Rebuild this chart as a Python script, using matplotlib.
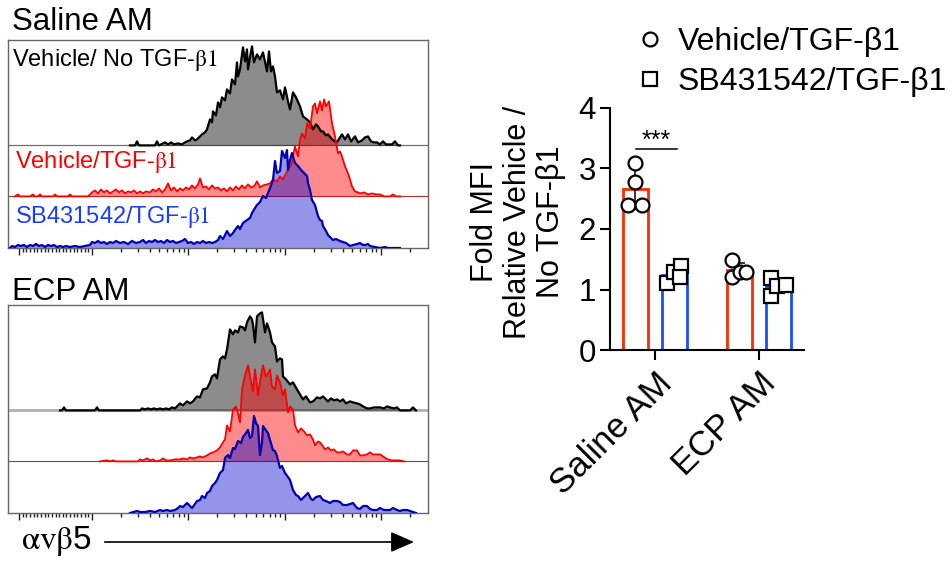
import numpy as np
import matplotlib.pyplot as plt
import matplotlib.transforms as mtransforms
from matplotlib.lines import Line2D

plt.rcParams['font.family'] = ['Liberation Sans', 'DejaVu Sans']
plt.rcParams['mathtext.fontset'] = 'stix'

# ---- flow histograms: (channel, count) ----
saline_noTGF = [(130,0),(135,0),(137,4),(139,0),(155,0),(157,4),(159,0),(165,3),(168,1),(171,3),(174,1),(178,2),
    (182,1),(185,3),(187,4),(190,5),(192,8),(195,5),(197,6),(200,9),(202,11),(205,13),(207,16),(210,26),(212,23),
    (213,34),(216,30),(218,43),(220,38),(222,48),(225,45),(227,56),(230,52),(232,66),(235,61),(237,83),(238,69),
    (240,76),(243,98),(245,84),(247,96),(248,76),(250,88),(252,99),(254,83),(257,91),(260,86),(263,93),(267,74),
    (269,94),(271,74),(273,79),(275,69),(277,53),(280,55),(283,46),(285,58),(288,44),(290,36),(293,53),(296,48),
    (300,39),(303,29),(307,26),(310,23),(313,16),(316,21),(318,19),(321,14),(323,14),(326,10),(328,11),(332,6),
    (335,4),(337,3),(340,8),(342,11),(345,6),(348,11),(351,4),(355,9),(358,3),(362,5),(365,8),(368,9),(371,4),
    (374,3),(377,3),(380,1),(383,4),(386,1),(392,1),(395,4),(398,0),(400,0)]
saline_veh = [(15,0),(18,2),(20,0),(30,0),(33,2),(35,0),(38,0),(40,2),(42,0),(53,0),(55,2),(57,0),(68,0),(70,2),
    (72,0),(88,0),(92,4),(95,6),(98,3),(101,7),(104,4),(107,6),(110,3),(113,5),(116,7),(119,4),(122,6),(125,3),
    (128,5),(131,4),(134,6),(137,3),(140,5),(143,3),(146,5),(150,4),(153,7),(156,5),(159,8),(162,4),(165,7),(168,13),
    (171,6),(174,9),(177,5),(180,8),(183,6),(186,9),(189,7),(192,11),(195,8),(198,12),(200,18),(203,9),(206,10),
    (209,7),(212,11),(215,8),(218,9),(221,6),(224,8),(227,5),(230,9),(233,6),(236,10),(239,7),(242,11),(245,8),
    (248,12),(251,9),(254,10),(257,15),(260,9),(263,11),(267,12),(270,13),(273,17),(277,15),(280,20),(283,17),
    (288,27),(291,30),(295,50),(298,40),(300,57),(302,63),(305,58),(307,73),(310,68),(313,90),(315,93),(317,83),
    (320,95),(322,86),(324,97),(326,90),(329,95),(332,73),(335,60),(338,43),(340,45),(342,40),(345,30),(348,23),
    (350,17),(352,10),(355,5),(358,4),(360,3),(364,4),(368,2),(372,3),(376,2),(380,2),(384,0),(390,0),(393,2),
    (396,0),(400,0)]
saline_sb = [(10,0),(12,2),(15,1),(18,3),(21,2),(24,3),(27,1),(30,3),(33,2),(36,4),(39,2),(42,3),(45,1),(48,3),
    (51,2),(54,3),(57,1),(60,2),(63,1),(66,2),(70,1),(75,2),(80,1),(85,2),(90,3),(92,6),(95,5),(98,7),(101,5),
    (104,6),(107,4),(110,6),(113,5),(116,7),(120,5),(124,6),(128,4),(132,7),(136,5),(140,6),(143,8),(146,5),(149,7),
    (152,6),(155,8),(158,6),(161,7),(164,5),(167,8),(170,6),(173,7),(176,5),(179,6),(182,7),(185,9),(188,5),(191,6),
    (194,4),(197,6),(200,5),(203,7),(206,5),(209,6),(212,5),(215,6),(218,8),(220,12),(223,9),(227,17),(230,12),
    (233,15),(235,18),(238,22),(240,19),(243,25),(247,28),(250,30),(252,35),(255,40),(257,43),(260,46),(263,52),
    (266,50),(268,55),(270,60),(273,68),(275,87),(277,75),(280,77),(282,97),(285,90),(287,98),(288,78),(290,88),
    (292,95),(295,85),(298,82),(302,77),(305,74),(307,72),(308,65),(310,58),(312,48),(315,43),(318,32),(320,28),
    (322,27),(323,22),(326,17),(328,13),(331,10),(333,8),(336,9),(340,7),(343,6),(346,5),(350,2),(353,3),(357,4),
    (360,5),(363,3),(365,3),(368,4),(370,2),(375,1),(380,0),(385,1),(388,0),(400,0)]

ecp_noTGF = [(60,0),(62,0),(64,3),(66,0),(95,0),(97,3),(99,0),(140,0),(142,2),(145,1),(148,2),(151,1),(154,2),
    (157,1),(160,2),(163,1),(166,2),(169,1),(172,3),(175,2),(177,4),(180,7),(183,5),(187,9),(190,7),(193,9),(197,14),
    (200,13),(203,21),(207,22),(210,28),(212,34),(215,36),(217,32),(220,51),(223,54),(225,52),(227,61),(230,81),
    (233,76),(235,80),(238,78),(240,84),(243,83),(245,80),(247,88),(250,94),(252,91),(253,86),(255,68),(257,94),
    (260,97),(262,98),(265,78),(267,87),(270,78),(272,68),(275,64),(277,49),(280,52),(282,51),(283,34),(286,31),
    (290,26),(293,28),(297,21),(300,16),(303,11),(306,14),(310,8),(313,9),(317,13),(320,12),(323,14),(326,11),
    (328,9),(331,12),(334,10),(337,11),(340,9),(343,11),(346,7),(350,9),(353,8),(357,7),(360,6),(363,4),(367,2),
    (370,2),(374,3),(377,3),(380,3),(384,2),(387,4),(390,3),(394,2),(397,3),(400,0),(410,0),(413,3),(416,0)]
ecp_veh = [(100,0),(107,1),(110,0),(113,1),(116,0),(138,0),(140,2),(143,1),(147,3),(150,1),(153,2),(156,0),(160,1),
    (163,3),(166,1),(170,1),(175,2),(180,2),(183,3),(187,2),(190,4),(193,3),(197,4),(200,5),(203,4),(207,6),(210,8),
    (213,9),(217,11),(220,14),(223,19),(225,22),(227,36),(230,30),(233,52),(236,55),(238,48),(240,39),(242,72),
    (245,86),(248,96),(251,80),(253,70),(255,92),(258,66),(260,80),(263,96),(266,85),(268,88),(270,92),(272,75),
    (275,72),(277,86),(280,79),(283,66),(285,72),(288,49),(290,55),(293,52),(295,36),(298,29),(301,33),(304,30),
    (307,26),(310,27),(313,22),(315,16),(318,20),(320,19),(323,15),(325,12),(328,14),(331,11),(334,12),(337,9),
    (340,9),(343,10),(347,7),(350,7),(353,11),(357,11),(360,6),(363,6),(367,7),(370,9),(373,7),(377,7),(380,7),
    (383,5),(386,3),(388,2),(392,1),(397,1),(400,1),(404,0)]
ecp_sb = [(130,0),(137,2),(140,1),(145,1),(150,2),(155,1),(160,3),(163,2),(167,3),(170,2),(175,3),(178,5),(180,7),
    (183,6),(187,10),(190,7),(192,5),(195,9),(197,12),(200,13),(202,17),(205,15),(207,20),(210,22),(212,27),(215,30),
    (217,33),(220,40),(223,43),(225,55),(228,58),(230,55),(233,65),(235,64),(238,72),(241,70),(243,76),(246,80),
    (248,83),(250,75),(252,77),(254,97),(256,90),(258,87),(260,58),(262,70),(263,87),(265,84),(268,80),(270,73),
    (273,63),(275,62),(277,57),(280,45),(282,47),(285,40),(288,36),(290,33),(293,23),(296,18),(298,17),(301,13),
    (303,15),(306,18),(308,20),(311,14),(313,13),(316,16),(320,17),(323,13),(326,12),(330,10),(333,12),(337,12),
    (340,11),(343,8),(347,8),(350,9),(353,10),(357,5),(360,4),(363,7),(367,7),(370,4),(373,3),(377,3),(380,5),
    (384,3),(387,3),(390,3),(393,5),(397,3),(400,2),(403,3),(407,3),(410,2),(413,1),(416,0)]

# ---- bar chart data ----
groups = ['Saline AM', 'ECP AM']
veh_points = [[3.09, 2.78, 2.40, 2.40], [1.49, 1.20, 1.29, 1.29]]
veh_jitter = [[0.0, 0.0, -0.067, 0.067], [-0.067, -0.067, 0.01, 0.067]]
sb_points = [[1.11, 1.29, 1.39, 1.20], [1.19, 0.90, 1.05, 1.08]]
sb_jitter = [[-0.07, -0.01, 0.06, 0.05], [-0.072, -0.072, -0.015, 0.072]]


def biex(v):
    v = np.asarray(v, float)
    lin = 55.5 + 36.5 * v / 100
    lg = 92 + 96.3 * (np.log10(np.maximum(np.abs(v), 1)) - 2)
    return np.where(np.abs(v) <= 100, lin, lg)


fig = plt.figure(figsize=(9.52, 5.65), dpi=100)


def flow_panel(bottom_px, curves, base_styles):
    ax = fig.add_axes([8 / 952, 1 - bottom_px / 565, 420 / 952, 208 / 565])
    ax.set_xlim(8, 428)
    ax.set_ylim(0, 208)
    for off, (c, lw) in zip([102.6, 51.6], base_styles):
        ax.axhline(off, color=c, lw=lw, zorder=1)
    for data, off, lc, fc, al, lw in curves:
        ch, n = np.array(data, float).T
        ax.fill_between(ch, off, off + n, color=fc, alpha=al, lw=0, zorder=2)
        ax.plot(ch, off + n, color=lc, lw=lw, zorder=3)
    for s in ax.spines.values():
        s.set_color('#666666')
        s.set_linewidth(1.0)
    ax.set_yticks([])
    ax.set_xticks(biex([-100, 100, 1e3, 1e4, 1e5]))
    minors = list(range(-90, 100, 10)) + [m * 10 ** d for d in (2, 3, 4) for m in range(2, 10)] + [2e5]
    ax.set_xticks(biex(minors), minor=True)
    ax.tick_params(axis='x', which='both', direction='out', labelbottom=False, color='#222222', width=1)
    ax.tick_params(axis='x', which='major', length=5)
    ax.tick_params(axis='x', which='minor', length=3)
    return ax


ax1 = flow_panel(248, [
    (saline_noTGF, 102.6, 'black', 'black', 0.45, 1.6),
    (saline_veh, 51.6, '#ff0000', '#ff0000', 0.45, 1.3),
    (saline_sb, 0, '#0000b0', '#0000cc', 0.42, 1.6)],
    [('#707070', 0.9), ('#b03030', 0.8)])
ax1.text(12, 188, 'Vehicle/ No TGF-$\\mathrm{\\beta 1}$', fontsize=17, va='center', color='black')
ax1.text(15, 86, 'Vehicle/TGF-$\\mathrm{\\beta 1}$', fontsize=17, va='center', color='#ff0000')
ax1.text(15, 31, 'SB431542/TGF-$\\mathrm{\\beta 1}$', fontsize=17, va='center', color='#1a3cff')

ax2 = flow_panel(513, [
    (ecp_noTGF, 102.6, 'black', 'black', 0.45, 1.6),
    (ecp_veh, 51.6, '#ff0000', '#ff0000', 0.45, 1.3),
    (ecp_sb, 0, '#0000b0', '#0000cc', 0.42, 1.6)],
    [('#b0b0b0', 2.0), ('#b03030', 0.8)])

fig.text(12 / 952, 1 - 22 / 565, 'Saline AM', fontsize=22.5, va='center')
fig.text(12 / 952, 1 - 292 / 565, 'ECP AM', fontsize=22.5, va='center')
fig.text(21 / 952, 1 - 541 / 565, '$\\mathrm{\\alpha v\\beta}$5', fontsize=24, va='center')
fig.add_artist(plt.Line2D([105 / 952, 400 / 952], [1 - 542 / 565] * 2, color='black', lw=1.2))
ax2.annotate('', xy=(414 / 952, 1 - 542 / 565), xytext=(395 / 952, 1 - 542 / 565),
             xycoords='figure fraction', textcoords='figure fraction',
             arrowprops=dict(arrowstyle='-|>,head_length=0.8,head_width=0.35', color='black',
                             lw=1.2, mutation_scale=18, shrinkA=0, shrinkB=0))

# ---- bar chart ----
axb = fig.add_axes([610 / 952, 1 - 350 / 565, 194 / 952, 242 / 565])
x = np.arange(len(groups))
dx = 0.19
bw = 0.24
veh_mean = [np.mean(p) for p in veh_points]
veh_sd = [np.std(p, ddof=1) for p in veh_points]
sb_mean = [np.mean(p) for p in sb_points]
sb_sd = [np.std(p, ddof=1) for p in sb_points]
axb.bar(x - dx, veh_mean, bw, fill=False, edgecolor='#ff2a00', lw=2.0, zorder=2)
axb.bar(x + dx, sb_mean, bw, fill=False, edgecolor='#1a4dff', lw=2.0, zorder=2)
axb.errorbar(x - dx, veh_mean, yerr=veh_sd, fmt='none', ecolor='black', elinewidth=1.1, capsize=4,
             capthick=1.1, zorder=3)
axb.errorbar(x + dx, sb_mean, yerr=sb_sd, fmt='none', ecolor='black', elinewidth=1.1, capsize=4,
             capthick=1.1, zorder=3)
for i in range(len(groups)):
    axb.plot(x[i] - dx + np.array(veh_jitter[i]), veh_points[i], 'o', ms=10, mfc='white', mec='black',
             mew=1.6, zorder=4, clip_on=False)
    axb.plot(x[i] + dx + np.array(sb_jitter[i]), sb_points[i], 's', ms=10, mfc='white', mec='black',
             mew=1.6, zorder=4, clip_on=False)
axb.plot([-0.18, 0.21], [3.32, 3.32], color='black', lw=1.1)
axb.text(0.015, 3.34, '***', ha='center', va='baseline', fontsize=18)
axb.set_xlim(-0.433, 1.433)
axb.set_ylim(0, 4)
axb.set_yticks([0, 1, 2, 3, 4])
axb.set_xticks(x)
axb.set_xticklabels(groups, rotation=45, ha='right', rotation_mode='anchor', fontsize=25)
shift = mtransforms.ScaledTranslation(-15 / 100, 0, fig.dpi_scale_trans)
for lab in axb.get_xticklabels():
    lab.set_transform(lab.get_transform() + shift)
axb.spines['top'].set_visible(False)
axb.spines['right'].set_visible(False)
axb.spines['left'].set_linewidth(1.5)
axb.spines['bottom'].set_linewidth(1.5)
axb.tick_params(axis='y', length=7, width=1.5, labelsize=22.5, pad=3)
axb.tick_params(axis='x', length=7, width=1.5, pad=5)
fig.text(518 / 952, 1 - 222 / 565, 'Fold MFI\nRelative Vehicle /\nNo TGF-\u03b21', rotation=90,
         ha='center', va='center', multialignment='center', fontsize=22, linespacing=1.15)

handles = [Line2D([], [], ls='none', marker='o', ms=10, mfc='white', mec='black', mew=1.6),
           Line2D([], [], ls='none', marker='s', ms=10, mfc='white', mec='black', mew=1.6)]
fig.legend(handles, ['Vehicle/TGF-\u03b21', 'SB431542/TGF-\u03b21'], loc='upper left',
           bbox_to_anchor=(636 / 952, 1 - 27 / 565), frameon=False, fontsize=23, handlelength=0.9,
           handletextpad=0.4, labelspacing=0.32, borderpad=0, borderaxespad=0)

fig.savefig('out.png', dpi=100)
